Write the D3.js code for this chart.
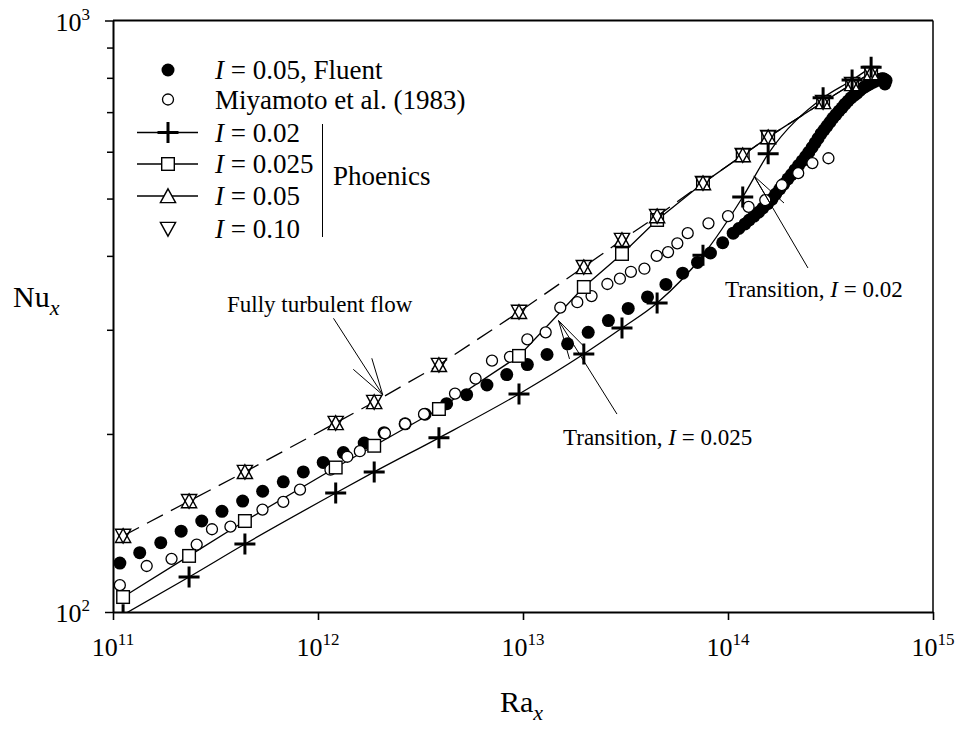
<!DOCTYPE html>
<html>
<head>
<meta charset="utf-8">
<script src="https://cdnjs.cloudflare.com/ajax/libs/d3/7.8.5/d3.min.js"></script>
<style>
  body { margin: 0; background: #fff; }
  text { font-family: "Liberation Serif", "Times New Roman", serif; fill: #000; }
</style>
</head>
<body>
<div id="chart"></div>
<script>
// Fluent, I = 0.05 (filled circles)
var fluentRa = [1.08e11,1.35e11,1.71e11,2.15e11,2.71e11,3.40e11,4.29e11,5.37e11,6.77e11,8.48e11,
  1.06e12,1.33e12,1.68e12,2.10e12,2.66e12,3.33e12,4.24e12,5.31e12,6.67e12,8.33e12,
  1.05e13,1.31e13,1.65e13,2.08e13,2.61e13,3.26e13,4.05e13,4.98e13,6.01e13,7.10e13,8.21e13,9.42e13,
  1.06e14,1.13e14,1.21e14,1.27e14,1.34e14,1.41e14,1.48e14,1.56e14,1.64e14,1.71e14,1.79e14,1.87e14,
  1.96e14,2.04e14,2.12e14,2.21e14,2.30e14,2.39e14,2.48e14,2.57e14,2.66e14,2.75e14,2.84e14,2.94e14,
  3.04e14,3.14e14,3.25e14,3.36e14,3.48e14,3.60e14,3.72e14,3.85e14,3.98e14,4.12e14,4.26e14,4.40e14,
  4.55e14,4.68e14,4.82e14,4.96e14,5.10e14,5.22e14,5.33e14,5.45e14,5.58e14,5.68e14,5.77e14,5.90e14,5.83e14];
var fluentNu = [121,126,131,137,142.5,148,154,160,166,172.5,
  179,186,193,201,208,216,225,233,242,252,
  262,272.5,284,297,311,326,341,358,374,390,404.5,421,
  437,445,453,460,467,474,482,490,499,509,519,529,
  540,549,559,569,579,589,599,610,621,632,643,653,
  663,673,684,693,703,712,722,731,740,747,754,762,
  769,774,778,783,787,790,793,795,796,797,796,792,781];

// Miyamoto et al. (1983) (open circles)
var miyaRa = [1.08e11,1.46e11,1.93e11,2.56e11,3.04e11,3.74e11,5.36e11,6.77e11,8.17e11,
  1.15e12,1.39e12,1.60e12,2.12e12,2.66e12,3.29e12,4.66e12,5.87e12,7.06e12,8.64e12,
  1.05e13,1.29e13,1.52e13,1.84e13,2.16e13,2.58e13,2.97e13,3.36e13,3.91e13,4.49e13,5.10e13,5.66e13,6.36e13,8.03e13,
  1.00e14,1.26e14,1.52e14,1.83e14,2.20e14,2.58e14,3.09e14];
var miyaNu = [111,119.6,123,130,138,139.4,149,153.5,161,
  174,183,187,200.5,208,216,234,248,266,270,
  289,297,327,334,342,358.5,366,376,380.5,400,406,420,437,454,
  467,484,497,527,552,574,585];

// Phoenics runs
var phoenicsRa = [1.12e11,2.35e11,4.40e11,1.22e12,1.88e12,3.89e12,9.56e12,1.98e13,3.04e13,4.51e13,7.55e13,1.18e14,1.57e14,2.91e14,4.03e14,4.99e14];
var nuI002  = [98.9,114.6,130.3,158.9,172.5,197,233.7,273,302,333,401,503,595,740,793,834];
var nuI0025 = [106,124.4,142.5,175.5,191,220.4,271,354.4,403,460,531,592,635,728,781,815];
var nuI005  = [134.5,154,172.5,208.7,226.5,261.6,321.6,383,425.6,467,531,592,635,728,781,815];
var nuI010  = [134.5,154,172.5,208.7,226.5,261.6,321.6,383,425.6,467,531,592,635,728,781,815];

// axis ticks
var xTicks = [1e11, 1e12, 1e13, 1e14, 1e15];
var xTickExp = ["11", "12", "13", "14", "15"];
var yMinor = [200, 300, 400, 500, 600, 700, 800, 900];

// set the dimensions and margins of the graph
var margin = {top: 20.5, right: 29, bottom: 119, left: 113},
    width = 962 - margin.left - margin.right,
    height = 731 - margin.top - margin.bottom;

var svg0 = d3.select("#chart")
  .append("svg")
    .attr("width", 962)
    .attr("height", 731);
var svg = svg0.append("g")
    .attr("transform", "translate(" + margin.left + "," + margin.top + ")");

var x = d3.scaleLog().domain([1e11, 1e15]).range([0, width]);
var y = d3.scaleLog().domain([100, 1000]).range([height, 0]);

svg.append("clipPath").attr("id", "clip")
  .append("rect").attr("width", width).attr("height", height);

// x axis
var xAxis = svg.append("g")
  .attr("transform", "translate(0," + height + ")")
  .call(d3.axisBottom(x).tickValues(xTicks).tickFormat("").tickSize(8).tickSizeOuter(0));
xAxis.selectAll(".tick line").attr("stroke-width", 1.6);
xAxis.select(".domain").attr("stroke-width", 2);

// y axis, majors + minors
var yAxis = svg.append("g")
  .call(d3.axisLeft(y).tickValues([100].concat(yMinor).concat([1000])).tickFormat("").tickSize(6).tickSizeOuter(0));
yAxis.selectAll(".tick line").attr("stroke-width", 1.5)
  .attr("x2", function(d) { return (d === 100 || d === 1000) ? -8 : -6; });
yAxis.select(".domain").attr("stroke-width", 2);

// frame top / right
svg.append("line").attr("x1", 0).attr("x2", width).attr("y1", 0).attr("y2", 0)
  .attr("stroke", "#000").attr("stroke-width", 2);
svg.append("line").attr("x1", width).attr("x2", width).attr("y1", 0).attr("y2", height)
  .attr("stroke", "#000").attr("stroke-width", 1.5);

// tick labels
xTicks.forEach(function(d, i) {
  var t = svg.append("text")
    .attr("x", x(d))
    .attr("y", height + 44)
    .attr("text-anchor", "middle")
    .style("font-size", "26px");
  t.append("tspan").text("10");
  t.append("tspan").attr("dy", -11).style("font-size", "17px").text(xTickExp[i]);
});
[[1000, "3"], [100, "2"]].forEach(function(p) {
  var t = svg.append("text")
    .attr("x", -23)
    .attr("y", y(p[0]) + 10)
    .attr("text-anchor", "end")
    .style("font-size", "26px");
  t.append("tspan").text("10");
  t.append("tspan").attr("dy", -11).style("font-size", "17px").text(p[1]);
});

// axis titles
var ny = svg0.append("text").attr("x", 13).attr("y", 307).style("font-size", "30px");
ny.append("tspan").text("Nu");
ny.append("tspan").attr("dy", 8).style("font-size", "22px").style("font-style", "italic").text("x");
var rx = svg0.append("text").attr("x", 500).attr("y", 712).style("font-size", "30px");
rx.append("tspan").text("Ra");
rx.append("tspan").attr("dy", 8).style("font-size", "22px").style("font-style", "italic").text("x");

// data
function pts(ra, nu) { return ra.map(function(d, i) { return {ra: d, nu: nu[i]}; }); }
var fluent = pts(fluentRa, fluentNu),
    miya = pts(miyaRa, miyaNu),
    p002 = pts(phoenicsRa, nuI002),
    p0025 = pts(phoenicsRa, nuI0025),
    p005 = pts(phoenicsRa, nuI005),
    p010 = pts(phoenicsRa, nuI010);

var plot = svg.append("g").attr("clip-path", "url(#clip)");

var lineLin = d3.line().x(function(d) { return x(d.ra); }).y(function(d) { return y(d.nu); });
var lineSmooth = d3.line().curve(d3.curveMonotoneX)
  .x(function(d) { return x(d.ra); }).y(function(d) { return y(d.nu); });

// fully turbulent (dashed) through I = 0.10 results
plot.append("path").datum(p010).attr("d", lineLin)
  .attr("fill", "none").attr("stroke", "#000").attr("stroke-width", 1.3)
  .attr("stroke-dasharray", "18,9");
plot.append("path").datum(p0025).attr("d", lineLin)
  .attr("fill", "none").attr("stroke", "#000").attr("stroke-width", 1.3);
plot.append("path").datum(p002).attr("d", lineSmooth)
  .attr("fill", "none").attr("stroke", "#000").attr("stroke-width", 1.3);

// Fluent filled circles
plot.append("g").selectAll("circle")
  .data(fluent).enter().append("circle")
    .attr("cx", function(d) { return x(d.ra); })
    .attr("cy", function(d) { return y(d.nu); })
    .attr("r", 6.5)
    .style("fill", "#000");

// Miyamoto open circles
plot.append("g").selectAll("circle")
  .data(miya).enter().append("circle")
    .attr("cx", function(d) { return x(d.ra); })
    .attr("cy", function(d) { return y(d.nu); })
    .attr("r", 5.5)
    .style("fill", "#fff").style("stroke", "#000").style("stroke-width", 1.3);

// triangles centred on their bounding box (gives the hourglass look)
var triUpPath = "M0,-7.2L7.6,6.6L-7.6,6.6Z";
var triDownPath = "M0,7.2L7.6,-6.6L-7.6,-6.6Z";

// I = 0.025 squares
plot.append("g").selectAll("rect")
  .data(p0025).enter().append("rect")
    .attr("x", function(d) { return x(d.ra) - 6.3; })
    .attr("y", function(d) { return y(d.nu) - 6.3; })
    .attr("width", 12.6).attr("height", 12.6)
    .style("fill", "#fff").style("stroke", "#000").style("stroke-width", 1.4);

// I = 0.05 triangles
plot.append("g").selectAll("path")
  .data(p005).enter().append("path")
    .attr("d", triUpPath)
    .attr("transform", function(d) { return "translate(" + x(d.ra) + "," + y(d.nu) + ")"; })
    .style("fill", "#fff").style("stroke", "#000").style("stroke-width", 1.4);

// I = 0.10 inverted triangles
plot.append("g").selectAll("path")
  .data(p010).enter().append("path")
    .attr("d", triDownPath)
    .attr("transform", function(d) { return "translate(" + x(d.ra) + "," + y(d.nu) + ")"; })
    .style("fill", "none").style("stroke", "#000").style("stroke-width", 1.4);

// I = 0.02 plus
function plus(g, cx, cy) {
  g.append("path")
    .attr("d", "M" + (cx - 10.5) + "," + cy + "H" + (cx + 10.5) + "M" + cx + "," + (cy - 10.5) + "V" + (cy + 10.5))
    .attr("stroke", "#000").attr("stroke-width", 3).attr("fill", "none");
}
var gp = plot.append("g");
p002.forEach(function(d) { plus(gp, x(d.ra), y(d.nu)); });

// annotations (arrows), in data coordinates
var annTurb = [[1.19e12, 313.7], [2.07e12, 232.8]];
var annTurbBarbs = [[1.486e12, 257.2], [1.83e12, 268.5]];
var ann025 = [[2.873e13, 216.1], [1.49e13, 311]];
var ann025Barbs = [[1.686e13, 267.8], [1.984e13, 281.2]];
var ann02 = [[2.455e14, 381.6], [1.339e14, 546]];
var ann02Barbs = [[1.603e14, 491.4], [1.876e14, 491.4]];

function arrow(main, barbs) {
  var tip = main[1];
  var segs = [main].concat(barbs.map(function(b) { return [b, tip]; }));
  segs.forEach(function(s) {
    svg.append("line")
      .attr("x1", x(s[0][0])).attr("y1", y(s[0][1]))
      .attr("x2", x(s[1][0])).attr("y2", y(s[1][1]))
      .attr("stroke", "#000").attr("stroke-width", 1);
  });
}
arrow(annTurb, annTurbBarbs);
arrow(ann025, ann025Barbs);
arrow(ann02, ann02Barbs);

svg0.append("text").attr("x", 227).attr("y", 312).style("font-size", "23px").text("Fully turbulent flow");
var t1 = svg0.append("text").attr("x", 563).attr("y", 445).style("font-size", "23px");
t1.append("tspan").text("Transition, ");
t1.append("tspan").style("font-style", "italic").text("I");
t1.append("tspan").text(" = 0.025");
var t2 = svg0.append("text").attr("x", 725).attr("y", 297).style("font-size", "23px");
t2.append("tspan").text("Transition, ");
t2.append("tspan").style("font-style", "italic").text("I");
t2.append("tspan").text(" = 0.02");

// legend
var legend = svg0.append("g");
var legRows = [
  {y: 70, label: " = 0.05, Fluent", ital: true},
  {y: 99.5, label: "Miyamoto et al. (1983)", ital: false},
  {y: 132.5, label: " = 0.02", ital: true},
  {y: 164, label: " = 0.025", ital: true},
  {y: 196, label: " = 0.05", ital: true},
  {y: 229, label: " = 0.10", ital: true}
];
legRows.forEach(function(r, i) {
  var t = legend.append("text").attr("x", 215).attr("y", r.y + 9).style("font-size", "27px");
  if (r.ital) t.append("tspan").style("font-style", "italic").text("I");
  t.append("tspan").text(r.label);
  if (i >= 2 && i <= 4) {
    legend.append("line").attr("x1", 137).attr("x2", 198).attr("y1", r.y).attr("y2", r.y)
      .attr("stroke", "#000").attr("stroke-width", 1.3);
  }
});
legend.append("circle").attr("cx", 168).attr("cy", 70).attr("r", 6.5).style("fill", "#000");
legend.append("circle").attr("cx", 168).attr("cy", 99.5).attr("r", 5.5)
  .style("fill", "#fff").style("stroke", "#000").style("stroke-width", 1.3);
plus(legend, 168, 132.5);
legend.append("rect").attr("x", 168 - 6.3).attr("y", 164 - 6.3).attr("width", 12.6).attr("height", 12.6)
  .style("fill", "#fff").style("stroke", "#000").style("stroke-width", 1.4);
legend.append("path").attr("d", triUpPath).attr("transform", "translate(168,196)")
  .style("fill", "#fff").style("stroke", "#000").style("stroke-width", 1.4);
legend.append("path").attr("d", triDownPath).attr("transform", "translate(168,229)")
  .style("fill", "#fff").style("stroke", "#000").style("stroke-width", 1.4);
legend.append("line").attr("x1", 322.5).attr("x2", 322.5).attr("y1", 124).attr("y2", 237)
  .attr("stroke", "#000").attr("stroke-width", 1);
legend.append("text").attr("x", 333).attr("y", 185).style("font-size", "27px").text("Phoenics");
</script>
</body>
</html>
